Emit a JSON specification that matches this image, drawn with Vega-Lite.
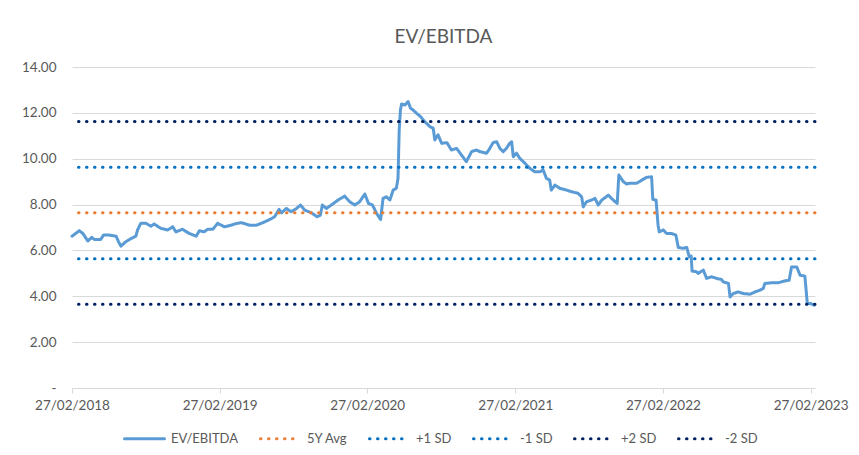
{
  "$schema": "https://vega.github.io/schema/vega-lite/v6.json",
  "autosize": {"type": "none"},
  "padding": {"left": 72, "top": 67, "right": 44, "bottom": 67},
  "width": 743,
  "height": 321,
  "background": "white",
  "config": {
    "font": "Lato",
    "view": {"stroke": null},
    "axis": {"labelFont": "Lato", "labelFontSize": 13.5, "labelColor": "#595959"},
    "legend": {"labelFont": "Lato", "title": null}
  },
  "title": {"text": "EV/EBITDA", "fontSize": 19, "fontWeight": "normal", "color": "#595959", "font": "Lato", "anchor": "middle", "offset": 13},
  "datasets": {
    "ev": [
      {"date": "2018-02-27", "v": 6.62}, {"date": "2018-03-17", "v": 6.86}, {"date": "2018-03-26", "v": 6.74},
      {"date": "2018-04-07", "v": 6.41}, {"date": "2018-04-17", "v": 6.57}, {"date": "2018-04-23", "v": 6.48},
      {"date": "2018-05-09", "v": 6.48}, {"date": "2018-05-16", "v": 6.67}, {"date": "2018-05-30", "v": 6.67},
      {"date": "2018-06-16", "v": 6.62}, {"date": "2018-06-22", "v": 6.38}, {"date": "2018-06-28", "v": 6.19},
      {"date": "2018-07-10", "v": 6.38}, {"date": "2018-07-23", "v": 6.52}, {"date": "2018-08-04", "v": 6.62},
      {"date": "2018-08-08", "v": 6.89}, {"date": "2018-08-16", "v": 7.18}, {"date": "2018-08-29", "v": 7.18},
      {"date": "2018-09-10", "v": 7.06}, {"date": "2018-09-18", "v": 7.15}, {"date": "2018-10-05", "v": 6.96},
      {"date": "2018-10-21", "v": 6.89}, {"date": "2018-11-03", "v": 7.03}, {"date": "2018-11-11", "v": 6.81},
      {"date": "2018-11-27", "v": 6.92}, {"date": "2018-12-14", "v": 6.74}, {"date": "2018-12-31", "v": 6.62},
      {"date": "2019-01-08", "v": 6.86}, {"date": "2019-01-20", "v": 6.81}, {"date": "2019-01-28", "v": 6.92},
      {"date": "2019-02-10", "v": 6.92}, {"date": "2019-02-22", "v": 7.18}, {"date": "2019-03-11", "v": 7.03},
      {"date": "2019-03-27", "v": 7.10}, {"date": "2019-04-11", "v": 7.18}, {"date": "2019-04-22", "v": 7.21},
      {"date": "2019-05-12", "v": 7.10}, {"date": "2019-05-29", "v": 7.10}, {"date": "2019-06-14", "v": 7.21},
      {"date": "2019-07-01", "v": 7.35}, {"date": "2019-07-13", "v": 7.47}, {"date": "2019-07-24", "v": 7.79},
      {"date": "2019-07-30", "v": 7.64}, {"date": "2019-08-11", "v": 7.83}, {"date": "2019-08-23", "v": 7.69},
      {"date": "2019-09-05", "v": 7.83}, {"date": "2019-09-15", "v": 7.98}, {"date": "2019-09-25", "v": 7.76},
      {"date": "2019-10-12", "v": 7.64}, {"date": "2019-10-26", "v": 7.47}, {"date": "2019-11-03", "v": 7.54},
      {"date": "2019-11-08", "v": 7.98}, {"date": "2019-11-18", "v": 7.83}, {"date": "2019-11-30", "v": 7.98},
      {"date": "2019-12-17", "v": 8.20}, {"date": "2020-01-02", "v": 8.37}, {"date": "2020-01-15", "v": 8.12},
      {"date": "2020-01-27", "v": 7.98}, {"date": "2020-02-08", "v": 8.12}, {"date": "2020-02-21", "v": 8.46},
      {"date": "2020-03-01", "v": 8.05}, {"date": "2020-03-11", "v": 7.98}, {"date": "2020-03-21", "v": 7.62},
      {"date": "2020-03-31", "v": 7.35}, {"date": "2020-04-06", "v": 8.27}, {"date": "2020-04-14", "v": 8.34},
      {"date": "2020-04-23", "v": 8.20}, {"date": "2020-05-01", "v": 8.63}, {"date": "2020-05-09", "v": 8.71},
      {"date": "2020-05-13", "v": 9.14}, {"date": "2020-05-16", "v": 11.25}, {"date": "2020-05-19", "v": 12.13},
      {"date": "2020-05-22", "v": 12.39}, {"date": "2020-05-30", "v": 12.34}, {"date": "2020-06-07", "v": 12.49},
      {"date": "2020-06-13", "v": 12.20}, {"date": "2020-06-19", "v": 12.13}, {"date": "2020-06-28", "v": 11.98},
      {"date": "2020-07-08", "v": 11.83}, {"date": "2020-07-18", "v": 11.62}, {"date": "2020-07-31", "v": 11.40},
      {"date": "2020-08-08", "v": 11.33}, {"date": "2020-08-12", "v": 10.82}, {"date": "2020-08-20", "v": 11.04},
      {"date": "2020-08-29", "v": 10.67}, {"date": "2020-09-11", "v": 10.70}, {"date": "2020-09-22", "v": 10.38},
      {"date": "2020-10-05", "v": 10.45}, {"date": "2020-10-17", "v": 10.16}, {"date": "2020-10-29", "v": 9.87},
      {"date": "2020-11-11", "v": 10.31}, {"date": "2020-11-23", "v": 10.38}, {"date": "2020-12-01", "v": 10.31},
      {"date": "2020-12-18", "v": 10.24}, {"date": "2020-12-26", "v": 10.45}, {"date": "2021-01-03", "v": 10.70},
      {"date": "2021-01-12", "v": 10.74}, {"date": "2021-01-20", "v": 10.45}, {"date": "2021-01-28", "v": 10.31},
      {"date": "2021-02-05", "v": 10.45}, {"date": "2021-02-13", "v": 10.67}, {"date": "2021-02-18", "v": 10.74},
      {"date": "2021-02-22", "v": 10.09}, {"date": "2021-03-02", "v": 10.24}, {"date": "2021-03-10", "v": 10.02},
      {"date": "2021-03-23", "v": 9.80}, {"date": "2021-04-04", "v": 9.58}, {"date": "2021-04-16", "v": 9.43},
      {"date": "2021-04-29", "v": 9.43}, {"date": "2021-05-07", "v": 9.51}, {"date": "2021-05-15", "v": 9.14},
      {"date": "2021-05-23", "v": 9.07}, {"date": "2021-05-27", "v": 8.63}, {"date": "2021-06-05", "v": 8.85},
      {"date": "2021-06-17", "v": 8.71}, {"date": "2021-07-04", "v": 8.63}, {"date": "2021-07-16", "v": 8.56},
      {"date": "2021-08-01", "v": 8.49}, {"date": "2021-08-10", "v": 8.34}, {"date": "2021-08-14", "v": 7.90},
      {"date": "2021-08-22", "v": 8.12}, {"date": "2021-09-04", "v": 8.20}, {"date": "2021-09-12", "v": 8.27},
      {"date": "2021-09-20", "v": 7.98}, {"date": "2021-09-29", "v": 8.20}, {"date": "2021-10-15", "v": 8.41},
      {"date": "2021-10-27", "v": 8.20}, {"date": "2021-11-06", "v": 8.05}, {"date": "2021-11-10", "v": 9.29},
      {"date": "2021-11-21", "v": 9.00}, {"date": "2021-11-29", "v": 8.90}, {"date": "2021-12-07", "v": 8.93},
      {"date": "2021-12-24", "v": 8.93}, {"date": "2022-01-09", "v": 9.10}, {"date": "2022-01-18", "v": 9.19},
      {"date": "2022-01-30", "v": 9.21}, {"date": "2022-02-02", "v": 8.23}, {"date": "2022-02-10", "v": 8.20},
      {"date": "2022-02-15", "v": 7.10}, {"date": "2022-02-18", "v": 6.81}, {"date": "2022-02-28", "v": 6.89},
      {"date": "2022-03-08", "v": 6.74}, {"date": "2022-03-20", "v": 6.74}, {"date": "2022-03-31", "v": 6.67},
      {"date": "2022-04-06", "v": 6.13}, {"date": "2022-04-18", "v": 6.09}, {"date": "2022-04-27", "v": 6.13},
      {"date": "2022-05-03", "v": 5.72}, {"date": "2022-05-08", "v": 5.75}, {"date": "2022-05-10", "v": 5.10},
      {"date": "2022-05-21", "v": 5.07}, {"date": "2022-05-25", "v": 5.00}, {"date": "2022-06-07", "v": 5.14},
      {"date": "2022-06-15", "v": 4.78}, {"date": "2022-06-27", "v": 4.85}, {"date": "2022-07-10", "v": 4.78},
      {"date": "2022-07-22", "v": 4.73}, {"date": "2022-07-26", "v": 4.63}, {"date": "2022-08-08", "v": 4.56},
      {"date": "2022-08-12", "v": 3.97}, {"date": "2022-08-20", "v": 4.12}, {"date": "2022-09-01", "v": 4.19},
      {"date": "2022-09-14", "v": 4.12}, {"date": "2022-09-30", "v": 4.09}, {"date": "2022-10-13", "v": 4.19},
      {"date": "2022-10-25", "v": 4.27}, {"date": "2022-11-02", "v": 4.34}, {"date": "2022-11-06", "v": 4.56},
      {"date": "2022-11-23", "v": 4.59}, {"date": "2022-12-09", "v": 4.59}, {"date": "2022-12-26", "v": 4.67},
      {"date": "2023-01-05", "v": 4.70}, {"date": "2023-01-11", "v": 5.28}, {"date": "2023-01-24", "v": 5.28},
      {"date": "2023-02-01", "v": 4.92}, {"date": "2023-02-13", "v": 4.88}, {"date": "2023-02-19", "v": 3.69},
      {"date": "2023-02-26", "v": 3.69}, {"date": "2023-03-08", "v": 3.61}
    ],
    "bands": [
      {"series": "5Y Avg", "v": 7.64},
      {"series": "+1 SD", "v": 9.63},
      {"series": "-1 SD", "v": 5.64},
      {"series": "+2 SD", "v": 11.62},
      {"series": "-2 SD", "v": 3.65}
    ]
  },
  "layer": [
    {
      "data": {"name": "ev"},
      "mark": {"type": "line", "strokeWidth": 3, "strokeJoin": "round", "strokeCap": "round"},
      "encoding": {
        "x": {
          "field": "date", "type": "temporal",
          "scale": {"type": "utc", "domain": [{"year": 2018, "month": 2, "date": 27, "utc": true}, {"year": 2023, "month": 3, "date": 10, "utc": true}]},
          "axis": {
            "title": null,
            "values": [
              {"year": 2018, "month": 2, "date": 27, "utc": true},
              {"year": 2019, "month": 2, "date": 27, "utc": true},
              {"year": 2020, "month": 2, "date": 27, "utc": true},
              {"year": 2021, "month": 2, "date": 27, "utc": true},
              {"year": 2022, "month": 2, "date": 27, "utc": true},
              {"year": 2023, "month": 2, "date": 27, "utc": true}
            ],
            "labelExpr": "utcFormat(datum.value, '%d/%m/%Y')",
            "grid": false,
            "domainColor": "#D9D9D9",
            "tickColor": "#D9D9D9",
            "tickSize": 5,
            "labelPadding": 5,
            "labelFlush": false
          }
        },
        "y": {
          "field": "v", "type": "quantitative",
          "scale": {"domain": [0, 14], "nice": false},
          "axis": {
            "title": null,
            "values": [0, 2, 4, 6, 8, 10, 12, 14],
            "labelExpr": "datum.value == 0 ? '-' : format(datum.value, '.2f')",
            "domain": false,
            "ticks": false,
            "labelPadding": 16,
            "gridColor": "#D9D9D9",
            "gridWidth": 1
          }
        },
        "color": {
          "datum": "EV/EBITDA", "type": "nominal",
          "scale": {
            "domain": ["EV/EBITDA", "5Y Avg", "+1 SD", "-1 SD", "+2 SD", "-2 SD"],
            "range": ["#5B9BD5", "#ED7D31", "#0070C0", "#0070C0", "#002060", "#002060"]
          },
          "legend": {
            "title": null,
            "orient": "none",
            "direction": "horizontal",
            "legendX": 51,
            "legendY": 350,
            "symbolType": "stroke",
            "symbolSize": 1600,
            "symbolStrokeWidth": 3,
            "labelFontSize": 13,
            "labelColor": "#595959",
            "labelOffset": 5,
            "columnPadding": 15,
            "encode": {"symbols": {"update": {"strokeCap": {"value": "round"}}}}
          }
        },
        "strokeDash": {
          "datum": "EV/EBITDA", "type": "nominal",
          "scale": {
            "domain": ["EV/EBITDA", "5Y Avg", "+1 SD", "-1 SD", "+2 SD", "-2 SD"],
            "range": [[1, 0], [0.5, 7.5], [0.5, 7.5], [0.5, 7.5], [0.5, 7.5], [0.5, 7.5]]
          },
          "legend": null
        }
      }
    },
    {
      "data": {"name": "bands"},
      "mark": {"type": "rule", "strokeWidth": 3, "strokeCap": "round"},
      "encoding": {
        "y": {"field": "v", "type": "quantitative"},
        "color": {"field": "series", "type": "nominal", "title": null},
        "strokeDash": {"field": "series", "type": "nominal", "title": null}
      }
    }
  ]
}
